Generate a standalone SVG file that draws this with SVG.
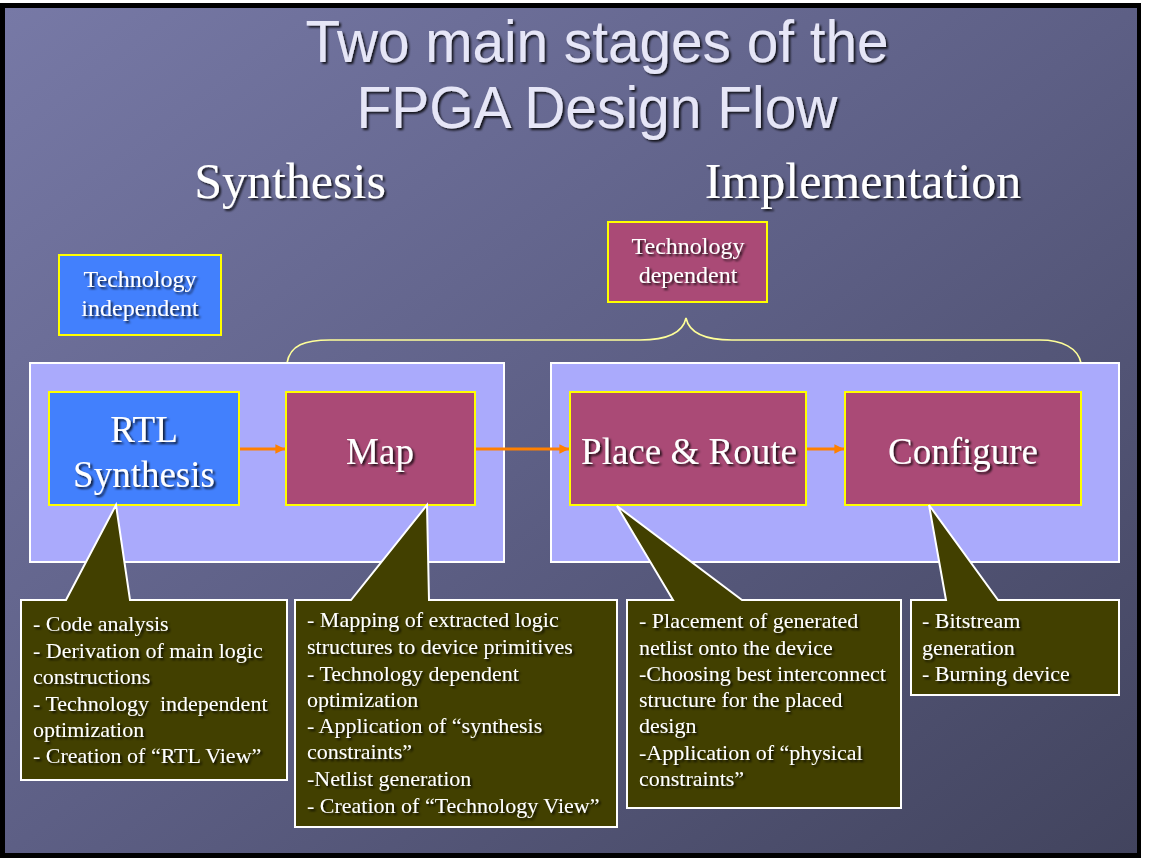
<svg xmlns="http://www.w3.org/2000/svg" width="1154" height="858" viewBox="0 0 1154 858">
  <defs>
    <linearGradient id="bg" x1="0" y1="0" x2="1" y2="1">
      <stop offset="0" stop-color="#7779a6"/>
      <stop offset="0.5" stop-color="#5d5f85"/>
      <stop offset="1" stop-color="#42445e"/>
    </linearGradient>
    <filter id="ts" x="-10%" y="-20%" width="130%" height="150%">
      <feDropShadow dx="2" dy="2" stdDeviation="0.8" flood-color="#000" flood-opacity="0.8"/>
    </filter>
    <marker id="ah" viewBox="0 0 10 10" refX="10" refY="5" markerWidth="3.2" markerHeight="3.2" orient="auto" markerUnits="strokeWidth">
      <path d="M0,0 L10,5 L0,10 Z" fill="#ff8000"/>
    </marker>
    <style>
      .title { font-family: "Liberation Sans", Arial, sans-serif; font-size: 60px; fill: #e6e6f7; text-anchor: middle; }
      .stage { font-family: "Liberation Serif", "Times New Roman", serif; font-size: 50px; fill: #ffffff; text-anchor: middle; }
      .tag { font-family: "Liberation Serif", "Times New Roman", serif; font-size: 24px; fill: #ffffff; text-anchor: middle; }
      .node { font-family: "Liberation Serif", "Times New Roman", serif; font-size: 37px; fill: #ffffff; text-anchor: middle; }
      .note { font-family: "Liberation Serif", "Times New Roman", serif; font-size: 22px; fill: #ffffff; }
      .blue { fill: #4280fd; stroke: #ffff00; stroke-width: 2; }
      .mag { fill: #aa4a76; stroke: #ffff00; stroke-width: 2; }
      .cont { fill: #aaaafc; stroke: #ffffff; stroke-width: 2; }
      .call { fill: #424000; stroke: #ffffff; stroke-width: 2; stroke-linejoin: miter; }
      .arrow { stroke: #ff8000; stroke-width: 3; fill: none; marker-end: url(#ah); }
      .brace { stroke: #ffff99; stroke-width: 1.6; fill: none; }
    </style>
  </defs>

  <!-- slide background -->
  <rect x="0" y="0" width="1154" height="858" fill="#ffffff"/>
  <rect x="0" y="3" width="1141" height="855" fill="#000000"/>
  <rect x="5" y="8" width="1132" height="845" fill="url(#bg)"/>

  <!-- titles -->
  <g id="title" filter="url(#ts)">
    <text class="title" x="597" y="62" textLength="583" lengthAdjust="spacingAndGlyphs">Two main stages of the</text>
    <text class="title" x="597" y="128" textLength="481" lengthAdjust="spacingAndGlyphs">FPGA Design Flow</text>
  </g>
  <g id="stage-synthesis" filter="url(#ts)">
    <text class="stage" x="290" y="198">Synthesis</text>
  </g>
  <g id="stage-implementation" filter="url(#ts)">
    <text class="stage" x="863" y="198">Implementation</text>
  </g>

  <!-- tags -->
  <g id="tag-independent">
    <rect class="blue" x="59" y="255" width="162" height="80"/>
    <g filter="url(#ts)">
      <text class="tag" x="140" y="287">Technology</text>
      <text class="tag" x="140" y="316">independent</text>
    </g>
  </g>
  <g id="tag-dependent">
    <rect class="mag" x="608" y="222" width="159" height="80"/>
    <g filter="url(#ts)">
      <text class="tag" x="688" y="254">Technology</text>
      <text class="tag" x="688" y="283">dependent</text>
    </g>
  </g>

  <!-- brace -->
  <g id="brace">
    <path class="brace" d="M287,363 C290,345 305,340 330,340 L640,340 C668,340 683,332 686,318 C689,332 704,340 732,340 L1040,340 C1062,340 1078,348 1081,363"/>
  </g>

  <!-- containers -->
  <g id="container-synthesis">
    <rect class="cont" x="30" y="363" width="474" height="199"/>
  </g>
  <g id="container-implementation">
    <rect class="cont" x="551" y="363" width="568" height="199"/>
  </g>

  <!-- connectors -->
  <g id="connectors">
    <line class="arrow" x1="240" y1="449" x2="285" y2="449"/>
    <line class="arrow" x1="476" y1="449" x2="569" y2="449"/>
    <line class="arrow" x1="807" y1="449" x2="844" y2="449"/>
  </g>

  <!-- nodes -->
  <g id="node-rtl">
    <rect class="blue" x="49" y="392" width="190" height="113"/>
    <g filter="url(#ts)">
      <text class="node" x="144" y="442">RTL</text>
      <text class="node" x="144" y="487">Synthesis</text>
    </g>
  </g>
  <g id="node-map">
    <rect class="mag" x="286" y="392" width="189" height="113"/>
    <g filter="url(#ts)"><text class="node" x="380" y="464">Map</text></g>
  </g>
  <g id="node-place-route">
    <rect class="mag" x="570" y="392" width="236" height="113"/>
    <g filter="url(#ts)"><text class="node" x="689" y="464">Place &amp; Route</text></g>
  </g>
  <g id="node-configure">
    <rect class="mag" x="845" y="392" width="236" height="113"/>
    <g filter="url(#ts)"><text class="node" x="963" y="464">Configure</text></g>
  </g>

  <!-- callouts -->
  <g id="callout-rtl">
    <path class="call" d="M21,600 L66,600 L116,505 L130,600 L287,600 L287,780 L21,780 Z"/>
    <g filter="url(#ts)">
      <text class="note" x="33" y="631">- Code analysis</text>
      <text class="note" x="33" y="658">- Derivation of main logic</text>
      <text class="note" x="33" y="684">constructions</text>
      <text class="note" x="33" y="711" xml:space="preserve">- Technology  independent</text>
      <text class="note" x="33" y="737">optimization</text>
      <text class="note" x="33" y="763">- Creation of “RTL View”</text>
    </g>
  </g>
  <g id="callout-map">
    <path class="call" d="M295,600 L351,600 L427,505 L429,600 L617,600 L617,827 L295,827 Z"/>
    <g filter="url(#ts)">
      <text class="note" x="307" y="627">- Mapping of extracted logic</text>
      <text class="note" x="307" y="654">structures to device primitives</text>
      <text class="note" x="307" y="681">- Technology dependent</text>
      <text class="note" x="307" y="707">optimization</text>
      <text class="note" x="307" y="733">- Application of “synthesis</text>
      <text class="note" x="307" y="759">constraints”</text>
      <text class="note" x="307" y="786">-Netlist generation</text>
      <text class="note" x="307" y="813">- Creation of “Technology View”</text>
    </g>
  </g>
  <g id="callout-place-route">
    <path class="call" d="M627,600 L673,600 L617,506 L742,600 L901,600 L901,808 L627,808 Z"/>
    <g filter="url(#ts)">
      <text class="note" x="639" y="628">- Placement of generated</text>
      <text class="note" x="639" y="655">netlist onto the device</text>
      <text class="note" x="639" y="681">-Choosing best interconnect</text>
      <text class="note" x="639" y="707">structure for the placed</text>
      <text class="note" x="639" y="733">design</text>
      <text class="note" x="639" y="760">-Application of “physical</text>
      <text class="note" x="639" y="786">constraints”</text>
    </g>
  </g>
  <g id="callout-configure">
    <path class="call" d="M911,600 L946,600 L929,505 L998,600 L1119,600 L1119,695 L911,695 Z"/>
    <g filter="url(#ts)">
      <text class="note" x="922" y="628">- Bitstream</text>
      <text class="note" x="922" y="655">generation</text>
      <text class="note" x="922" y="681">- Burning device</text>
    </g>
  </g>
</svg>
